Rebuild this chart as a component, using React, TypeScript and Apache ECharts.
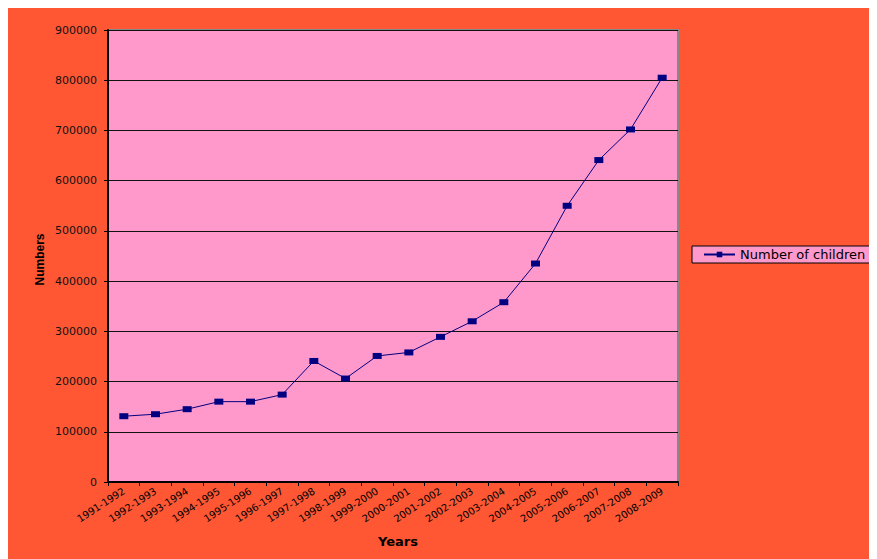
import React, { useEffect, useRef } from "react";
import * as echarts from "echarts";

const categories = [
  "1991-1992", "1992-1993", "1993-1994", "1994-1995", "1995-1996", "1996-1997",
  "1997-1998", "1998-1999", "1999-2000", "2000-2001", "2001-2002", "2002-2003",
  "2003-2004", "2004-2005", "2005-2006", "2006-2007", "2007-2008", "2008-2009",
];
const children = [
  131000, 135000, 145000, 160000, 160000, 174000, 241000, 206000, 251000,
  258000, 289000, 320000, 358000, 435000, 550000, 641000, 702000, 805000,
];
const seriesName = "Number of children";
const xTitle = "Years";
const yTitle = "Numbers";

export default function App() {
  const ref = useRef<HTMLDivElement>(null);
  useEffect(() => {
    document.documentElement.style.overflow = "hidden";
    document.body.style.overflow = "hidden";
    const chart = echarts.init(ref.current!, null, { renderer: "svg" });
    chart.setOption({
      animation: false,
      backgroundColor: "#FF5733",
      grid: {
        left: 100,
        top: 22,
        width: 570,
        height: 452,
        show: true,
        backgroundColor: "#FF99CC",
        borderColor: "#888888",
        borderWidth: 2,
      },
      legend: {
        left: 684,
        top: 238,
        orient: "vertical",
        data: [seriesName],
        backgroundColor: "#FF99CC",
        borderColor: "#000",
        borderWidth: 1,
        borderRadius: 0,
        padding: [2, 20, 2, 11],
        itemWidth: 31,
        itemHeight: 7,
        textStyle: { fontFamily: "DejaVu Sans", fontSize: 13, color: "#000" },
      },
      xAxis: {
        type: "category",
        data: categories,
        boundaryGap: true,
        axisLine: { lineStyle: { color: "#000", width: 2 } },
        axisTick: { show: true, length: 4, lineStyle: { color: "#000" }, alignWithLabel: false },
        axisLabel: {
          rotate: 33,
          interval: 0,
          margin: 8,
          fontFamily: "DejaVu Sans",
          fontSize: 10,
          color: "#000",
        },
        splitLine: { show: false },
      },
      yAxis: {
        type: "value",
        min: 0,
        max: 900000,
        interval: 100000,
        axisLine: { show: true, lineStyle: { color: "#000", width: 2 } },
        axisTick: { show: true, length: 4, lineStyle: { color: "#000" } },
        axisLabel: {
          margin: 11,
          fontFamily: "DejaVu Sans",
          fontSize: 11,
          color: "#111",
          formatter: (v: number) => String(v),
        },
        splitLine: { show: true, lineStyle: { color: "#111", width: 1 } },
      },
      graphic: [
        {
          type: "text",
          x: 390,
          y: 533,
          style: {
            text: xTitle,
            fontFamily: "DejaVu Sans",
            fontWeight: "bold",
            fontSize: 13,
            fill: "#000",
            align: "center",
            verticalAlign: "middle",
          },
        },
        {
          type: "text",
          x: 31.5,
          y: 251.5,
          rotation: Math.PI / 2,
          style: {
            text: yTitle,
            fontFamily: "Liberation Sans",
            fontWeight: "bold",
            fontSize: 12,
            fill: "#000",
            align: "center",
            verticalAlign: "middle",
          },
        },
      ],
      series: [
        {
          name: seriesName,
          type: "line",
          data: children,
          symbol: "rect",
          symbolSize: [9, 6],
          showAllSymbol: true,
          lineStyle: { color: "#000080", width: 1 },
          itemStyle: { color: "#000080" },
        },
      ],
    });
    return () => chart.dispose();
  }, []);
  return <div ref={ref} style={{ width: 869, height: 551 }} />;
}
